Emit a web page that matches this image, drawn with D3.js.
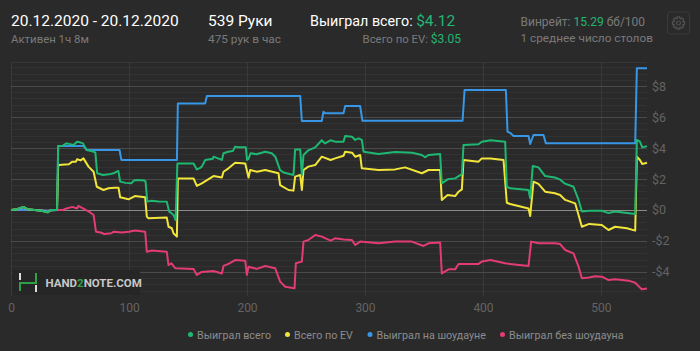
<!DOCTYPE html>
<html><head><meta charset="utf-8">
<script src="https://cdn.jsdelivr.net/npm/d3@7"></script>
<style>
html,body{margin:0;padding:0;background:#2a2a2a;}
svg{display:block;font-family:Roboto,"Noto Sans",sans-serif;}
</style></head>
<body><svg id="c" width="700" height="351"></svg>
<script>
// ---- data (hand number, $ value) ----
const totalWon = [[0,0],[5,0.05],[10.6,0.2],[14,0.05],[20,0],[26,-0.05],[31,-0.15],[34,0],[39,0],[40,4.13],[44,4.15],[47,4.3],[50,4.25],[53,4.2],[56,4.4],[59,4.35],[61,4.3],[64,3.87],[68,3.8],[70,3.76],[71.5,3.7],[73,2.37],[78,2.26],[83,2.3],[87,2.37],[91,2.52],[92.5,1.83],[97,1.75],[102,1.72],[104,1.9],[107,1.94],[113,1.9],[114,1.85],[115.5,0.54],[119,0.6],[125,0.55],[132,0.54],[134,-0.1],[136,-0.2],[138,-0.35],[139.5,-0.65],[141,3.0],[154.7,3.0],[157.5,2.62],[160,2.7],[161.7,2.8],[164.6,3.23],[171,3.3],[171.6,3.44],[178.7,3.23],[180.1,3.66],[184,3.76],[188,3.8],[190,4.09],[192.8,4.05],[199,4.05],[200,3.23],[201.3,3.3],[203,3.66],[208,3.6],[215.4,3.76],[221,3.66],[224,3.44],[228,2.58],[231,2.42],[239.4,2.26],[240.8,3.91],[245.1,3.91],[246.5,2.26],[247.9,3.55],[252,3.85],[257.8,4.04],[263.4,4.5],[266,4.3],[270.8,4.5],[274.7,4.41],[281.8,4.41],[283.2,4.77],[289,4.73],[291.7,4.52],[294.5,4.62],[297.3,4.52],[298.8,3.76],[311.5,3.61],[325.6,3.74],[340,3.7],[348.2,3.55],[351,3.4],[353.8,3.55],[363.7,3.61],[365.1,1.72],[370,1.98],[376.4,2.04],[382.1,2.32],[383.5,4.19],[396.2,4.24],[399,4.4],[406.4,4.5],[418.8,4.41],[420.2,1.5],[423,1.4],[438.6,1.29],[440,0.75],[442.2,2.84],[447,2.75],[452.7,2.19],[461,2.1],[465,1.98],[469,1.72],[476.7,1.5],[481,0.65],[483.8,-0.1],[490,-0.05],[500.7,-0.05],[506.4,-0.2],[512,-0.1],[522,-0.2],[529,-0.26],[530.4,4.52],[533,4.41],[535,4.04],[539,4.12]];
const evWon = [[0,0],[5,0.05],[10.6,0.2],[14,0.05],[20,0],[26,-0.05],[31,-0.15],[34,0],[39,0],[40,2.9],[49,2.95],[52,3.12],[55,3.12],[56,3.27],[59,3.2],[61.4,3.33],[65.7,2.8],[70,2.47],[72.7,1.5],[78.4,1.29],[82.6,1.4],[88,1.44],[91.1,1.44],[92.5,0.82],[99.6,0.69],[105,0.9],[113.7,0.82],[115.1,-0.43],[116.5,-0.54],[132,-0.49],[133.5,-1.08],[136.3,-1.18],[137.7,-1.5],[140.6,-1.72],[141.4,2.04],[154.7,2.04],[157.5,1.55],[161.7,1.72],[171.6,2.19],[178.7,2.1],[180.1,2.47],[184.3,2.69],[190,3.05],[198.5,3.0],[201.3,2.1],[202.7,2.58],[208.4,2.47],[215.4,2.58],[226.7,2.37],[228.1,1.61],[235.2,1.29],[239.4,1.25],[240.8,2.15],[245.1,2.26],[246.5,1.29],[247.9,2.58],[252,2.8],[257.8,2.9],[263.4,3.44],[270.8,3.23],[274.7,3.33],[281.8,3.5],[283.2,3.76],[289,3.7],[291.7,3.44],[295.9,3.55],[297.3,2.69],[311.5,2.58],[325.6,2.62],[334,2.75],[348.2,2.37],[353.8,2.58],[363.7,2.58],[365.1,0.65],[370,0.97],[376.4,0.9],[379.3,1.18],[382.1,1.33],[383.5,3.23],[396.2,3.12],[399,3.33],[406.4,3.33],[417.4,3.23],[420.2,0.47],[423,0.39],[438.6,0.1],[440,-0.39],[442.8,1.83],[447,1.68],[452.7,1.18],[461,1.08],[465.4,0.97],[469.7,0.65],[478.1,0.43],[481,-0.32],[483.8,-1.08],[490,-0.9],[500.7,-0.97],[506.4,-1.29],[512,-1.08],[522,-1.18],[529,-1.33],[530.4,3.44],[533,3.23],[535,2.97],[539,3.05]];
const showdownWon = [[0,0],[10,0.03],[20,0],[31,-0.05],[39,0],[40,4.13],[61.4,4.13],[64.3,3.87],[92,3.87],[93.5,3.23],[140.6,3.23],[141.4,6.88],[164.6,6.88],[166,7.35],[245.1,7.35],[246.5,5.74],[263.4,5.74],[264.8,6.34],[266.2,6.24],[281.8,6.24],[283.2,6.71],[295.9,6.71],[297.8,5.76],[382.7,5.76],[384.4,7.74],[419.4,7.74],[420.8,5.05],[423,4.98],[425.9,4.77],[438.6,4.77],[440,4.26],[442.8,4.84],[451.3,4.84],[453.3,4.3],[529,4.3],[530.4,9.14],[539,9.14]];
const nonShowdownWon = [[0,0],[10,0.05],[20,0],[31,-0.05],[39,0],[44,0],[47,0.1],[52,0.2],[56,0.1],[57,0.26],[61,0.1],[66,-0.1],[70,-0.32],[72,-1.4],[76,-1.45],[79,-1.55],[85,-1.5],[87,-1.4],[94,-1.45],[100,-1.4],[105,-1.33],[113.7,-1.4],[115.1,-2.69],[119.3,-2.62],[132,-2.69],[133.5,-3.55],[136,-3.44],[139.2,-3.76],[154.7,-3.8],[157.5,-4.19],[161.7,-4.0],[171.6,-3.94],[178.7,-4.1],[180.1,-3.61],[184.3,-3.48],[190,-3.23],[198.5,-3.28],[199.9,-4.19],[201.3,-3.66],[208.4,-3.8],[215.4,-3.61],[223.9,-3.76],[228.1,-4.62],[232.4,-4.95],[240.3,-5.05],[241.4,-3.44],[246.5,-3.33],[247.9,-2.04],[252,-1.94],[257.8,-1.61],[263.4,-1.72],[270.8,-1.98],[274.7,-1.83],[281.8,-1.9],[288.9,-1.94],[291.7,-2.26],[295.9,-2.04],[311.5,-2.15],[325.6,-2.04],[339.7,-2.04],[349.6,-2.32],[353.8,-2.15],[363.7,-2.1],[365.1,-4.09],[370.8,-3.83],[376.4,-3.83],[379.3,-3.48],[396.2,-3.48],[399,-3.33],[406.4,-3.23],[418.8,-3.44],[423,-3.48],[438.6,-3.61],[440.8,-2.04],[447,-2.15],[461,-2.15],[465.4,-2.2],[469.7,-2.58],[476.7,-2.8],[481,-3.66],[483.8,-4.41],[490,-4.35],[495,-4.27],[500.7,-4.3],[506.4,-4.52],[512,-4.47],[523.4,-4.56],[529,-4.69],[534.6,-5.12],[539,-5.06]];
const xTicks = [0,100,200,300,400,500];
const yTicks = [-4,-2,0,2,4,6,8];
const legendLabels = ["Выиграл всего","Всего по EV","Выиграл на шоудауне","Выиграл без шоудауна"];
const seriesColors = ["#1fb872","#f2e53a","#3797e6","#e33c73"];

const svg = d3.select("#c");
const x = d3.scaleLinear().domain([0,539]).range([11,647]);
const y = d3.scaleLinear().domain([-5.55,9.55]).range([296,62]);

// header
const hd = svg.append("g");
hd.append("text").attr("x",11).attr("y",26).attr("fill","#ffffff").attr("font-size",15.5).text("20.12.2020 - 20.12.2020");
hd.append("text").attr("x",11).attr("y",43).attr("fill","#7a7a7a").attr("font-size",11.4).text("Активен 1ч 8м");
hd.append("text").attr("x",208).attr("y",26).attr("fill","#ffffff").attr("font-size",15.5).text("539 Руки");
hd.append("text").attr("x",208).attr("y",43).attr("fill","#7a7a7a").attr("font-size",11.8).text("475 рук в час");
const t1 = hd.append("text").attr("x",310).attr("y",26).attr("font-size",14.3);
t1.append("tspan").attr("fill","#ffffff").text("Выиграл всего: ");
t1.append("tspan").attr("fill","#22b673").attr("font-size",15.5).text("$4.12");
const t2 = hd.append("text").attr("x",461).attr("y",43).attr("font-size",11.4).attr("text-anchor","end");
t2.append("tspan").attr("fill","#7a7a7a").text("Всего по EV: ");
t2.append("tspan").attr("fill","#22b673").attr("font-size",12).text("$3.05");
const t3 = hd.append("text").attr("x",520.5).attr("y",26).attr("font-size",12);
t3.append("tspan").attr("fill","#7a7a7a").text("Винрейт: ");
t3.append("tspan").attr("fill","#22b673").text("15.29");
t3.append("tspan").attr("fill","#7a7a7a").text(" бб/100");
hd.append("text").attr("x",520.5).attr("y",42).attr("fill","#7a7a7a").attr("font-size",11.8).text("1 среднее число столов");
// gear button
hd.append("rect").attr("x",667.5).attr("y",12).attr("width",22).attr("height",22).attr("rx",3).attr("fill","none").attr("stroke","#3a3a3a");
const gear = hd.append("g").attr("transform","translate(678.5,23)").attr("fill","none").attr("stroke","#505050").attr("stroke-width",1.2);
let path = "";
d3.range(8).map(i=>i*45).forEach((deg,i)=>{
  const a0=(deg-12)*Math.PI/180, a1=(deg+12)*Math.PI/180, b0=(deg+22.5)*Math.PI/180, b1=(deg+33)*Math.PI/180;
  const p=(r,a)=>[r*Math.cos(a),r*Math.sin(a)];
  const pts=[p(6.2,a0),p(6.2,a1),p(4.6,b0-0.05),p(4.6,b1-0.05)];
  path += (i===0?"M":"L")+pts[0].join(",")+"L"+pts[1].join(",")+"L"+pts[2].join(",")+"L"+pts[3].join(",");
});
gear.append("path").attr("d",path+"Z");
gear.append("circle").attr("r",2);

// grid
const grid = svg.append("g");
const minor = d3.range(-13,24).map(k=>+(k*0.4).toFixed(2)).filter(v=>Math.abs(v/2-Math.round(v/2))>1e-6);
grid.selectAll(".mn").data(minor).join("line").attr("x1",11).attr("x2",647)
  .attr("y1",d=>Math.round(y(d))+0.5).attr("y2",d=>Math.round(y(d))+0.5).attr("stroke","#323232");
grid.append("line").attr("x1",11).attr("x2",647).attr("y1",62.5).attr("y2",62.5).attr("stroke","#363636");
grid.selectAll(".vx").data(xTicks).join("line").attr("x1",d=>Math.round(x(d))+0.5).attr("x2",d=>Math.round(x(d))+0.5)
  .attr("y1",62).attr("y2",296).attr("stroke","#393939");
grid.selectAll(".mj").data(yTicks.filter(d=>d!==0)).join("line").attr("x1",11).attr("x2",647)
  .attr("y1",d=>Math.round(y(d))+0.5).attr("y2",d=>Math.round(y(d))+0.5).attr("stroke","#4a4a4a");
grid.append("line").attr("x1",11).attr("x2",647).attr("y1",Math.round(y(0))+0.5).attr("y2",Math.round(y(0))+0.5).attr("stroke","#8a8a8a");

// axes
const xAxis = d3.axisBottom(x).tickValues(xTicks).tickSize(0).tickPadding(0);
const gx = svg.append("g").attr("transform","translate(0,303)").call(xAxis);
gx.select(".domain").remove();
gx.selectAll("text").attr("fill","#646464").attr("font-size",12).attr("font-family","Roboto,sans-serif");
const yAxis = d3.axisRight(y).tickValues(yTicks).tickSize(0).tickPadding(0)
  .tickFormat(d=>(d<0?"-$":"$")+Math.abs(d));
const gy = svg.append("g").attr("transform","translate(652,0)").call(yAxis);
gy.select(".domain").remove();
gy.selectAll("text").attr("fill","#646464").attr("font-size",12.5).attr("font-family","Roboto,sans-serif");

// watermark
const wm = svg.append("g");
wm.append("rect").attr("x",12).attr("y",270).attr("width",128).attr("height",25).attr("fill","#262626");
wm.append("line").attr("x1",20).attr("x2",20).attr("y1",273).attr("y2",280).attr("stroke","#dddddd").attr("stroke-width",2);
wm.append("line").attr("x1",36).attr("x2",36).attr("y1",285).attr("y2",292).attr("stroke","#dddddd").attr("stroke-width",2);
wm.append("path").attr("d","M20,291V283H36V273").attr("fill","none").attr("stroke","#2fa045").attr("stroke-width",2);
const wt = wm.append("text").attr("x",45.5).attr("y",287).attr("font-size",11.5).attr("font-weight","bold").attr("fill","#c8c8c8");
wt.append("tspan").text("HAND");
wt.append("tspan").attr("fill","#2fa045").text("2");
wt.append("tspan").text("NOTE.COM");

// lines
const line = d3.line().x(d=>x(d[0])).y(d=>y(d[1]));
const series = [totalWon, evWon, showdownWon, nonShowdownWon];
svg.append("g").selectAll("path").data([3,2,1,0]).join("path")
  .attr("d",i=>line(series[i])).attr("fill","none").attr("stroke",i=>seriesColors[i])
  .attr("stroke-width",2).attr("stroke-linejoin","round");

// legend
const lg = svg.append("g");
const lgX = [190.5,287.5,370,502.5];
legendLabels.forEach((lab,i)=>{
  lg.append("circle").attr("cx",lgX[i]).attr("cy",334.5).attr("r",2.5).attr("fill",seriesColors[i]);
  lg.append("text").attr("x",lgX[i]+6.5).attr("y",338.5).attr("font-size",10.7).attr("fill","#8c8c8c").text(lab);
});
</script></body></html>
